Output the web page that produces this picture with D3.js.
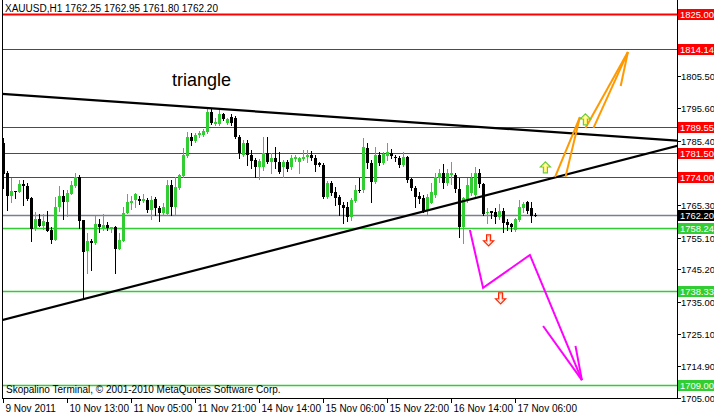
<!DOCTYPE html>
<html><head><meta charset="utf-8">
<script src="https://cdn.jsdelivr.net/npm/d3@7"></script>
<style>html,body{margin:0;padding:0;background:#fff;}svg{display:block;}text{font-family:Tahoma,"Liberation Sans",Arial,sans-serif;}</style>
</head><body><svg id="c" width="714" height="416"></svg>
<script>
// ---- data ----
const title = "XAUUSD,H1  1762.25 1762.95 1761.80 1762.20";
const openP = [1784.7,1775.3,1768.1,1769.7,1769.4,1771.9,1771.3,1767.5,1757.8,1760.9,1758.8,1760.0,1757.5,1754.4,1764.7,1768.1,1766.3,1768.8,1771.3,1774.1,1760.6,1750.9,1754.1,1753.4,1759.4,1757.8,1759.1,1757.8,1758.4,1751.6,1754.1,1762.8,1765.9,1766.9,1767.2,1766.6,1766.9,1763.8,1767.2,1764.4,1762.8,1762.5,1771.6,1764.7,1770.6,1774.4,1780.6,1786.6,1785.3,1787.2,1787.2,1788.1,1794.4,1790.6,1790.6,1793.8,1790.9,1792.8,1792.5,1786.6,1780.9,1784.7,1780.9,1779.4,1777.2,1777.2,1781.6,1778.8,1780.0,1778.8,1777.2,1778.8,1777.2,1779.7,1778.8,1779.7,1780.3,1780.9,1780.0,1778.4,1777.8,1767.8,1772.2,1769.4,1767.8,1765.3,1764.7,1761.6,1766.6,1770.0,1770.0,1783.1,1778.4,1772.5,1780.9,1778.4,1780.6,1781.6,1780.3,1780.0,1777.8,1780.3,1773.4,1770.6,1768.1,1767.5,1763.4,1765.9,1768.4,1773.8,1775.3,1772.2,1774.7,1774.7,1770.3,1758.4,1766.9,1769.1,1768.4,1775.3,1771.9,1762.8,1763.4,1763.1,1761.6,1763.4,1760.0,1759.4,1757.5,1760.6,1764.4,1766.3,1764.4,1762.25];
const highP = [1786.3,1775.9,1773.8,1769.7,1773.1,1773.1,1772.2,1767.8,1763.1,1762.5,1762.5,1763.4,1758.4,1767.8,1771.3,1770.0,1770.0,1772.8,1775.3,1774.7,1760.6,1756.6,1754.7,1761.9,1760.9,1762.5,1760.0,1758.4,1758.8,1756.6,1764.7,1768.8,1768.1,1769.1,1768.1,1768.8,1767.5,1768.1,1767.8,1765.0,1765.9,1773.1,1773.1,1774.1,1775.0,1783.1,1788.1,1787.8,1787.8,1788.4,1789.1,1795.6,1795.6,1792.5,1795.0,1794.1,1792.5,1793.8,1793.1,1787.2,1785.6,1785.6,1782.5,1780.0,1779.7,1786.6,1786.6,1781.6,1783.4,1781.9,1779.4,1779.4,1780.9,1780.9,1780.3,1782.5,1782.5,1782.2,1780.9,1778.8,1778.4,1772.8,1772.8,1770.9,1768.4,1766.3,1766.3,1767.5,1771.6,1773.8,1786.3,1784.7,1779.4,1783.4,1781.9,1781.9,1784.7,1782.8,1780.9,1780.6,1781.9,1780.6,1773.8,1771.3,1769.4,1768.4,1768.8,1772.2,1775.3,1776.6,1778.1,1776.6,1778.8,1775.3,1773.8,1767.8,1773.8,1775.3,1777.2,1776.6,1772.2,1764.4,1763.4,1764.4,1765.6,1764.4,1760.9,1759.7,1761.3,1766.9,1766.3,1766.6,1766.3,1762.95];
const lowP = [1770.6,1763.8,1766.3,1767.5,1769.4,1765.3,1766.9,1754.1,1757.5,1758.8,1757.8,1757.2,1753.4,1754.4,1763.4,1760.9,1761.9,1768.8,1770.9,1758.1,1736.6,1744.1,1745.0,1753.1,1756.9,1757.5,1757.5,1756.9,1744.1,1751.6,1754.1,1762.8,1764.1,1764.7,1765.6,1766.3,1763.1,1760.9,1762.2,1760.3,1762.5,1762.2,1762.2,1762.5,1770.3,1774.1,1780.3,1784.1,1785.0,1786.6,1786.9,1787.8,1790.6,1790.3,1790.3,1791.9,1790.6,1790.3,1786.3,1780.0,1780.6,1777.8,1776.9,1774.1,1773.4,1776.3,1778.4,1775.3,1776.9,1775.3,1774.1,1775.9,1776.6,1779.1,1775.3,1779.4,1778.8,1779.4,1775.9,1777.5,1767.5,1767.5,1768.4,1765.3,1762.2,1759.7,1760.3,1760.6,1766.3,1769.4,1769.4,1776.9,1766.3,1772.2,1777.8,1778.1,1779.4,1780.0,1779.1,1777.2,1777.5,1772.5,1770.0,1764.7,1765.9,1763.1,1762.5,1765.9,1767.8,1772.5,1770.6,1771.6,1771.9,1769.4,1755.3,1753.4,1766.3,1768.4,1768.1,1770.9,1762.2,1759.7,1761.3,1759.7,1760.9,1756.9,1757.5,1757.2,1757.2,1760.3,1763.1,1762.8,1760.0,1761.80];
const closeP = [1775.0,1768.1,1769.7,1769.4,1771.9,1771.3,1767.2,1757.8,1760.9,1758.8,1760.3,1757.2,1754.4,1764.7,1768.1,1766.3,1769.1,1771.6,1774.1,1760.3,1750.6,1754.1,1753.4,1759.4,1758.4,1759.1,1758.1,1758.4,1751.6,1754.4,1762.8,1766.3,1766.6,1768.8,1766.6,1767.2,1763.8,1766.9,1764.4,1762.8,1764.7,1771.6,1764.7,1770.9,1774.7,1780.9,1786.6,1785.3,1787.2,1787.8,1788.4,1794.4,1790.9,1791.3,1793.8,1792.2,1792.2,1790.9,1786.6,1781.6,1784.7,1780.9,1779.1,1777.2,1779.1,1781.6,1778.8,1780.0,1778.8,1775.6,1778.8,1776.6,1780.0,1780.3,1780.0,1780.3,1780.9,1780.0,1777.8,1777.8,1767.8,1772.2,1769.1,1767.5,1765.3,1764.4,1761.6,1766.9,1770.0,1769.7,1783.4,1778.4,1772.5,1780.9,1778.4,1781.3,1781.9,1780.6,1780.0,1777.8,1780.3,1773.1,1770.6,1767.8,1767.2,1763.4,1767.8,1769.4,1774.1,1775.3,1772.2,1775.3,1775.3,1770.3,1758.4,1767.5,1771.6,1773.8,1775.3,1771.9,1762.5,1763.1,1762.8,1761.6,1763.4,1759.7,1759.1,1758.4,1760.9,1764.7,1765.6,1763.4,1761.9,1762.20];

const timeLabels = ["9 Nov 2011","10 Nov 13:00","11 Nov 05:00","11 Nov 21:00","14 Nov 14:00","15 Nov 06:00","15 Nov 22:00","16 Nov 14:00","17 Nov 06:00"];
const timeLabelBars = [0,16,32,48,64,80,96,112,128];
const priceTicks = [1825.00,1815.70,1805.50,1795.60,1785.40,1775.50,1765.30,1755.10,1745.20,1735.00,1725.10,1714.90,1705.00];

const redLevels = [1825.00,1814.14,1789.55,1781.50,1774.00];
const greenLevels = [1758.24,1738.33,1709.00];
const lastPrice = 1762.20;

// trend lines as [barIndex, price] pairs
const upperTrend = [[-1,1800.1],[170,1785.3]];
const lowerTrend = [[-1,1729.1],[170,1784.3]];
// hand-drawn arrows (bar index, price)
const orangeLines = [
  [[137.9,1774.1],[144.1,1792.8]],
  [[140.5,1774.1],[144.1,1792.8]],
  [[145.5,1789.4],[156.1,1813.1]],
  [[147.5,1789.4],[156.1,1813.1]],
  [[154.3,1802.5],[156.1,1813.1]]
];
const magentaLine = [[116.6,1757.5],[119.9,1739.4],[131.6,1749.7],[144.6,1710.6]];
const magentaWings = [[[134.9,1727.5],[144.6,1710.6]],[[143.0,1721.3],[144.6,1710.6]]];
const upArrows = [[135.6,1776.9],[145.6,1791.9]];
const downArrows = [[121.4,1754.4],[124.4,1736.3]];

// ---- drawing ----
const W = 714, H = 416;
const left = 2, right = 677, bottom = 398;
const svg = d3.select("#c");
svg.append("rect").attr("width",W).attr("height",H).attr("fill","#fff");

const x = d3.scaleLinear().domain([0,1]).range([3,7]);
const y = d3.scaleLinear().domain([1705,1825]).range([398,14]);

svg.append("defs").append("clipPath").attr("id","plot")
  .append("rect").attr("x",left).attr("y",0).attr("width",right-left).attr("height",bottom);

const plot = svg.append("g").attr("clip-path","url(#plot)");

// horizontal levels
redLevels.forEach((p,i)=>{
  plot.append("line").attr("x1",left).attr("x2",right)
    .attr("y1",Math.round(y(p))+0.5).attr("y2",Math.round(y(p))+0.5)
    .attr("stroke","#ff0000").attr("stroke-width", i===0?2:1);
});
plot.append("line").attr("x1",left).attr("x2",right)
  .attr("y1",Math.round(y(lastPrice))+0.5).attr("y2",Math.round(y(lastPrice))+0.5)
  .attr("stroke","#77808e").attr("stroke-width",1.3);
greenLevels.forEach(p=>{
  plot.append("line").attr("x1",left).attr("x2",right)
    .attr("y1",Math.round(y(p))+0.5).attr("y2",Math.round(y(p))+0.5)
    .attr("stroke","#32cd32").attr("stroke-width",1.3);
});

// candles
const bars = d3.range(openP.length).map(i=>({i,o:openP[i],h:highP[i],l:lowP[i],c:closeP[i]}));
const cg = plot.append("g");
bars.forEach(b=>{
  const col = b.c>b.o ? "#32cd32" : "#000";
  const cx = x(b.i)+0.5;
  cg.append("line").attr("x1",cx).attr("x2",cx)
    .attr("y1",Math.round(y(b.h))).attr("y2",Math.round(y(b.l))+1)
    .attr("stroke",col).attr("stroke-width",1);
  const yt = Math.round(y(Math.max(b.o,b.c))), yb = Math.round(y(Math.min(b.o,b.c)));
  cg.append("rect").attr("x",x(b.i)-1).attr("y",yt)
    .attr("width",3).attr("height",Math.max(1,yb-yt)).attr("fill",col);
});

// trend lines
const lineGen = d3.line().x(d=>x(d[0])+0.5).y(d=>y(d[1]));
[upperTrend,lowerTrend].forEach(t=>{
  plot.append("path").attr("d",lineGen(t)).attr("fill","none")
    .attr("stroke","#000").attr("stroke-width",2.2);
});

// orange
orangeLines.forEach(t=>{
  plot.append("path").attr("d",lineGen(t)).attr("fill","none")
    .attr("stroke","#ff9900").attr("stroke-width",2);
});
// magenta
plot.append("path").attr("d",lineGen(magentaLine)).attr("fill","none")
  .attr("stroke","#ff00ff").attr("stroke-width",2);
magentaWings.forEach(t=>{
  plot.append("path").attr("d",lineGen(t)).attr("fill","none")
    .attr("stroke","#ff00ff").attr("stroke-width",2);
});

// arrow symbols
const upPath = "M0,-6 L5,-1 L2,-1 L2,5 L-2,5 L-2,-1 L-5,-1 Z";
upArrows.forEach(a=>{
  plot.append("path").attr("d",upPath)
    .attr("transform",`translate(${x(a[0])},${y(a[1])})`)
    .attr("fill","#fff").attr("stroke","#66cc33").attr("stroke-width",1.2);
  plot.append("path").attr("d","M0,-4 L3,-1.5 L1,-1.5 L1,3.5 L-1,3.5 L-1,-1.5 L-3,-1.5 Z")
    .attr("transform",`translate(${x(a[0])},${y(a[1])})`)
    .attr("fill","none").attr("stroke","#ffee44").attr("stroke-width",0.8);
});
downArrows.forEach(a=>{
  plot.append("path").attr("d",upPath)
    .attr("transform",`translate(${x(a[0])},${y(a[1])}) rotate(180)`)
    .attr("fill","#fff").attr("stroke","#ff2200").attr("stroke-width",1.2);
  plot.append("path").attr("d","M0,-4 L3,-1.5 L1,-1.5 L1,3.5 L-1,3.5 L-1,-1.5 L-3,-1.5 Z")
    .attr("transform",`translate(${x(a[0])},${y(a[1])}) rotate(180)`)
    .attr("fill","none").attr("stroke","#ffaa88").attr("stroke-width",0.8);
});

// text annotation
svg.append("text").attr("x",172).attr("y",86).text("triangle")
  .attr("font-size",18).attr("fill","#000").style("font-family","'Liberation Sans',Arial,sans-serif");

// title & copyright
svg.append("text").attr("x",5).attr("y",12).text(title).attr("font-size",10).attr("fill","#000");
svg.append("text").attr("x",6).attr("y",393).text("Skopalino Terminal, © 2001-2010 MetaQuotes Software Corp.")
  .attr("font-size",10).attr("fill","#000");

// frame
svg.append("line").attr("x1",left+0.5).attr("x2",left+0.5).attr("y1",0).attr("y2",bottom+1).attr("stroke","#000");
svg.append("line").attr("x1",right+0.5).attr("x2",right+0.5).attr("y1",0).attr("y2",bottom+1).attr("stroke","#000");
svg.append("line").attr("x1",left).attr("x2",right+1).attr("y1",bottom+0.5).attr("y2",bottom+0.5).attr("stroke","#000");

// x axis
const xAxis = svg.append("g");
timeLabelBars.forEach((b,k)=>{
  const tx = x(b)+0.5;
  xAxis.append("line").attr("x1",tx).attr("x2",tx).attr("y1",bottom).attr("y2",bottom+5).attr("stroke","#000");
  xAxis.append("text").attr("x",tx+2).attr("y",412).text(timeLabels[k]).attr("font-size",10).attr("fill","#000");
});

// y axis ticks (labels hidden behind a price box are omitted, as in the reference)
const yAxis = svg.append("g");
const boxed = redLevels.concat(greenLevels,[lastPrice]);
priceTicks.forEach(p=>{
  const ty = Math.round(y(p))+0.5;
  yAxis.append("line").attr("x1",right).attr("x2",right+4).attr("y1",ty).attr("y2",ty).attr("stroke","#000");
  if (boxed.some(q=>Math.abs(y(q)-y(p))<9)) return;
  yAxis.append("text").attr("x",681).attr("y",ty+3.5).text(p.toFixed(2)).attr("font-size",9.4).attr("fill","#000");
});
// price boxes
function box(p,bg){
  const ty = Math.round(y(p));
  yAxis.append("rect").attr("x",right+1).attr("y",ty-5).attr("width",W-right).attr("height",11).attr("fill",bg);
  yAxis.append("text").attr("x",680).attr("y",ty+4).text(p.toFixed(2)).attr("font-size",9.4).attr("fill","#fff");
}
redLevels.forEach(p=>box(p,"#ff0000"));
greenLevels.forEach(p=>box(p,"#32cd32"));
box(lastPrice,"#000");
</script></body></html>
